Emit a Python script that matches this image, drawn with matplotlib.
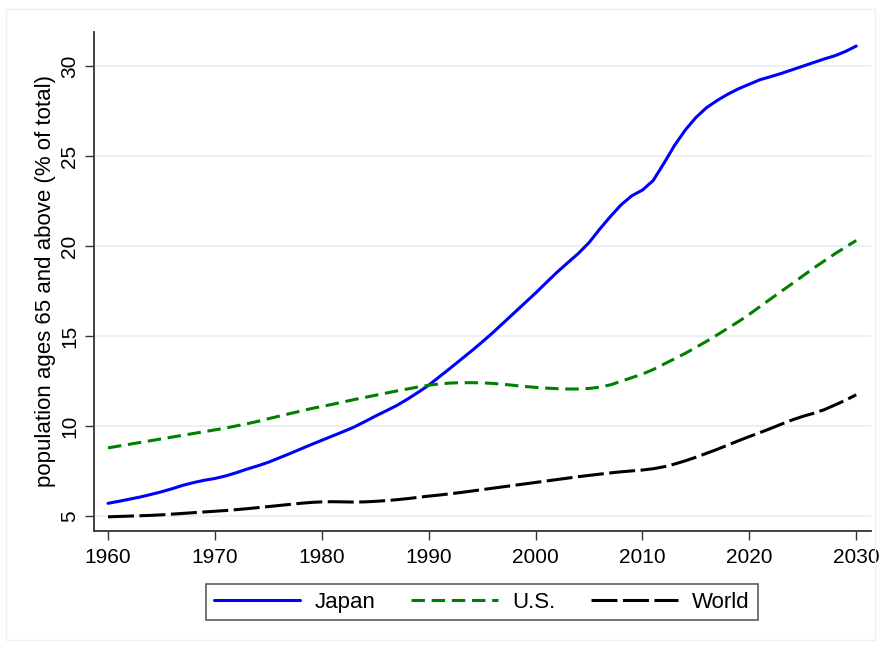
#!/usr/bin/env python3
"""Population ages 65 and above (% of total): Japan, U.S., World, 1960-2030."""

import numpy as np
import matplotlib
matplotlib.use("Agg")
import matplotlib.pyplot as plt
from matplotlib.patches import Rectangle

years = np.arange(1960, 2031)

japan = [
    5.72, 5.83, 5.95, 6.07, 6.21, 6.36, 6.53, 6.72, 6.87, 7.00,
    7.10, 7.24, 7.42, 7.62, 7.80, 8.00, 8.24, 8.48, 8.73, 8.98,
    9.22, 9.46, 9.70, 9.95, 10.25, 10.56, 10.85, 11.15, 11.50, 11.88,
    12.28, 12.75, 13.22, 13.70, 14.18, 14.68, 15.20, 15.75, 16.30, 16.85,
    17.40, 17.98, 18.55, 19.08, 19.60, 20.20, 20.95, 21.65, 22.30, 22.80,
    23.12, 23.65, 24.60, 25.60, 26.45, 27.15, 27.70, 28.10, 28.45, 28.75,
    29.00, 29.25, 29.42, 29.60, 29.80, 30.00, 30.20, 30.40, 30.58, 30.82,
    31.12,
]

us = [
    8.80, 8.90, 9.00, 9.10, 9.20, 9.30, 9.40, 9.50, 9.60, 9.70,
    9.80, 9.90, 10.02, 10.14, 10.27, 10.42, 10.56, 10.70, 10.84, 10.98,
    11.10, 11.22, 11.35, 11.48, 11.60, 11.72, 11.84, 11.96, 12.07, 12.18,
    12.28, 12.35, 12.40, 12.42, 12.42, 12.41, 12.38, 12.33, 12.27, 12.21,
    12.16, 12.12, 12.09, 12.07, 12.07, 12.10, 12.17, 12.30, 12.50, 12.70,
    12.90, 13.15, 13.45, 13.75, 14.05, 14.38, 14.72, 15.08, 15.45, 15.82,
    16.22, 16.65, 17.08, 17.50, 17.92, 18.35, 18.78, 19.18, 19.58, 19.95,
    20.32,
]

world = [
    4.97, 4.99, 5.01, 5.03, 5.05, 5.08, 5.12, 5.16, 5.20, 5.24,
    5.28, 5.32, 5.37, 5.42, 5.48, 5.54, 5.60, 5.66, 5.72, 5.77,
    5.80, 5.81, 5.80, 5.79, 5.80, 5.83, 5.87, 5.92, 5.98, 6.05,
    6.12, 6.18, 6.25, 6.32, 6.40, 6.48, 6.56, 6.64, 6.72, 6.80,
    6.88, 6.96, 7.04, 7.12, 7.20, 7.27, 7.34, 7.41, 7.47, 7.52,
    7.57, 7.64, 7.75, 7.90, 8.08, 8.28, 8.50, 8.72, 8.96, 9.20,
    9.43, 9.65, 9.88, 10.12, 10.35, 10.55, 10.72, 10.92, 11.18, 11.45,
    11.75,
]

x_ticks = [1960, 1970, 1980, 1990, 2000, 2010, 2020, 2030]
y_ticks = [5, 10, 15, 20, 25, 30]

plt.rcParams["font.family"] = ["Liberation Sans", "DejaVu Sans"]
plt.rcParams["font.size"] = 15

fig = plt.figure(figsize=(8.81, 6.46), dpi=100)
fig.patches.append(Rectangle((6 / 881, 6 / 646), 869 / 881, 631 / 646,
                             transform=fig.transFigure, fill=False,
                             edgecolor="#edf2f4", lw=1))

ax = fig.add_axes([0.1067, 0.1785, 0.8816, 0.772])

lw = 2.2
ax.plot(years, japan, color="#0000ff", lw=lw, label="Japan",
        solid_capstyle="round")
ax.plot(years, us, color="#008000", lw=lw, label="U.S.",
        dashes=(4.4, 2.2))
ax.plot(years, world, color="black", lw=lw, label="World",
        dashes=(8.5, 1.8))

ax.set_xlim(1958.69, 2031.35)
ax.set_ylim(4.2, 31.9)
ax.set_xticks(x_ticks)
ax.set_yticks(y_ticks)
ax.tick_params(axis="both", length=6.5, width=1, color="#333333",
               labelsize=15)
ax.tick_params(axis="x", pad=6)
ax.tick_params(axis="y", labelrotation=90, pad=4)
for lab in ax.get_yticklabels():
    lab.set_va("center")

ax.grid(axis="y", color="#e6eff2", lw=1.2)
ax.set_axisbelow(True)
for side in ("top", "right"):
    ax.spines[side].set_visible(False)
for side in ("left", "bottom"):
    ax.spines[side].set_color("#333333")
    ax.spines[side].set_linewidth(1.3)

ax.set_ylabel("population ages 65 and above (% of total)", fontsize=16,
              labelpad=3)

leg = fig.legend(loc="center", bbox_to_anchor=(0.547, 0.068), ncol=3,
                 fontsize=16, frameon=True, fancybox=False,
                 handlelength=3.9, handletextpad=0.65, columnspacing=1.6,
                 borderpad=0.35)
leg.get_frame().set_edgecolor("#333333")
leg.get_frame().set_linewidth(1.2)

fig.savefig("out.png", dpi=100, facecolor="white")
